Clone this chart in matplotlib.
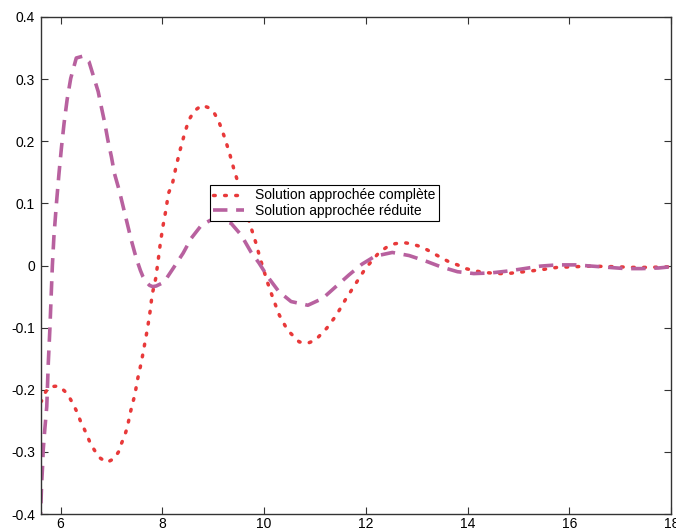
import matplotlib
matplotlib.use('Agg')
import matplotlib.pyplot as plt

plt.rcParams['font.family'] = ['Liberation Sans', 'DejaVu Sans']

# solution approchée complète
x_comp = [5.608, 5.628, 5.71, 5.80, 5.96, 6.08, 6.18, 6.26, 6.33, 6.39, 6.46, 6.53, 6.59,
          6.68, 6.78, 6.91, 7.05, 7.14, 7.20, 7.26, 7.31, 7.38, 7.46, 7.52, 7.59, 7.65,
          7.71, 7.76, 7.80, 7.87, 7.92, 7.96, 8.01, 8.07, 8.12, 8.20, 8.27, 8.35, 8.44,
          8.52, 8.63, 8.78, 8.91, 9.03, 9.11, 9.22, 9.32, 9.40, 9.50, 9.66, 9.74, 9.84,
          9.92, 10.07, 10.18, 10.30, 10.46, 10.69, 10.86, 11.01, 11.23, 11.42, 11.59,
          11.77, 11.95, 12.05, 12.26, 12.40, 12.57, 12.73, 12.89, 13.05, 13.21, 13.36,
          13.63, 13.80, 13.96, 14.12, 14.29, 14.60, 14.78, 15.11, 15.43, 15.76, 16.09,
          16.41, 16.92, 17.24, 17.57, 18.0]
y_comp = [-0.220, -0.218, -0.203, -0.195, -0.194, -0.202, -0.213, -0.225, -0.237, -0.250,
          -0.262, -0.275, -0.287, -0.299, -0.310, -0.317, -0.311, -0.300, -0.286, -0.274,
          -0.261, -0.234, -0.208, -0.181, -0.155, -0.128, -0.101, -0.074, -0.047, -0.021,
          0.009, 0.035, 0.062, 0.089, 0.116, 0.132, 0.159, 0.186, 0.213, 0.234, 0.249,
          0.258, 0.254, 0.244, 0.232, 0.207, 0.181, 0.157, 0.130, 0.084, 0.062, 0.036,
          0.012, -0.028, -0.054, -0.080, -0.104, -0.123, -0.125, -0.120, -0.101, -0.080,
          -0.056, -0.033, -0.010, 0.001, 0.021, 0.029, 0.035, 0.037, 0.035, 0.031, 0.025,
          0.018, 0.006, 0.001, -0.005, -0.008, -0.011, -0.013, -0.013, -0.010, -0.007,
          -0.003, -0.002, -0.001, -0.002, -0.003, -0.003, -0.002]

# solution approchée réduite
x_red = [5.600, 5.628, 5.647, 5.66, 5.69, 5.73, 5.76, 5.79, 5.84, 5.87, 5.92, 5.97, 6.02,
         6.07, 6.13, 6.20, 6.31, 6.44, 6.56, 6.65, 6.74, 6.80, 6.87, 6.93, 7.00, 7.06,
         7.15, 7.23, 7.31, 7.39, 7.46, 7.52, 7.57, 7.62, 7.68, 7.75, 7.81, 7.88, 7.98,
         8.08, 8.21, 8.41, 8.57, 8.77, 8.95, 9.12, 9.35, 9.55, 9.74, 9.90, 10.07, 10.29,
         10.53, 10.86, 11.15, 11.41, 11.67, 11.92, 12.18, 12.52, 12.85, 13.18, 13.47,
         13.80, 14.12, 14.45, 14.78, 15.11, 15.43, 15.76, 16.11, 16.44, 16.77, 17.10,
         17.42, 17.75, 18.0]
y_red = [-0.420, -0.353, -0.324, -0.297, -0.265, -0.227, -0.157, -0.104, 0.000, 0.046,
         0.100, 0.148, 0.191, 0.229, 0.267, 0.301, 0.334, 0.337, 0.328, 0.304, 0.280,
         0.256, 0.229, 0.202, 0.175, 0.148, 0.122, 0.095, 0.068, 0.041, 0.020, 0.004,
         -0.008, -0.018, -0.026, -0.032, -0.034, -0.033, -0.029, -0.021, -0.005, 0.020,
         0.044, 0.065, 0.073, 0.074, 0.068, 0.049, 0.022, 0.004, -0.018, -0.042, -0.058,
         -0.064, -0.053, -0.034, -0.015, 0.002, 0.015, 0.021, 0.016, 0.007, -0.002,
         -0.010, -0.013, -0.012, -0.009, -0.005, -0.001, 0.001, 0.001, -0.001, -0.003,
         -0.005, -0.005, -0.004, -0.002]

fig = plt.figure(figsize=(6.76, 5.31), dpi=100)
ax = fig.add_axes([0.060, 0.032, 0.933, 0.936])

ax.plot(x_comp, y_comp, color='#e8393a', linestyle=(0, (0.5, 2.7)), linewidth=2.5,
        dash_capstyle='round', label='Solution approchée complète')
ax.plot(x_red, y_red, color='#b8619f', linestyle=(0, (4.0, 2.4)), linewidth=2.6,
        label='Solution approchée réduite')

ax.set_xlim(5.608, 18)
ax.set_ylim(-0.4, 0.4)
ax.set_xticks([6, 8, 10, 12, 14, 16, 18])
ax.set_yticks([-0.4, -0.3, -0.2, -0.1, 0, 0.1, 0.2, 0.3, 0.4])
ax.set_yticklabels(['-0.4', '-0.3', '-0.2', '-0.1', '0', '0.1', '0.2', '0.3', '0.4'])
ax.tick_params(direction='in', top=True, right=True, length=5, width=0.8,
               labelsize=10, color='#333333', pad=4)
ax.tick_params(axis='x', pad=2.5)
for s in ax.spines.values():
    s.set_color('#333333')
    s.set_linewidth(1.0)

leg = ax.legend(loc='upper left', bbox_to_anchor=(0.268, 0.662), fontsize=10,
                fancybox=False, framealpha=1, edgecolor='black', handlelength=2.2,
                borderpad=0.25, labelspacing=0.1, handletextpad=0.8, borderaxespad=0)
leg.get_frame().set_linewidth(0.8)

fig.savefig('out.png', dpi=100)
